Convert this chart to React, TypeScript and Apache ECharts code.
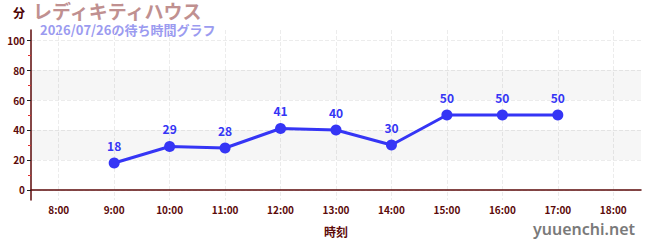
import React, { useEffect, useRef } from "react";
import * as echarts from "echarts";

const categories = ["8:00", "9:00", "10:00", "11:00", "12:00", "13:00", "14:00", "15:00", "16:00", "17:00", "18:00"];
const waitValues: (number | null)[] = [null, 18, 29, 28, 41, 40, 30, 50, 50, 50, null];
const majorTicks = [0, 20, 40, 60, 80, 100];
const minorTicks = [10, 30, 50, 70, 90];
const bands: [number, number][] = [[20, 40], [60, 80]];

const titleText = "レディキティハウス";
const subText = "2026/07/26の待ち時間グラフ";

export default function App() {
  const ref = useRef<HTMLDivElement>(null);
  useEffect(() => {
    const chart = echarts.init(ref.current!, null, { renderer: "svg" });
    const dark = "#5c0a0a";
    const font = "'Noto Sans CJK JP', 'Noto Sans', sans-serif";
    chart.setOption({
      animation: false,
      textStyle: { fontFamily: font },
      grid: { left: 31, right: 9, top: 30, bottom: 50 },
      graphic: [
        { type: "text", left: 13, top: 6, style: { text: "分", fill: "#4a0000", font: `bold 12px ${font}` } },
        { type: "text", left: 33, top: 1, style: { text: titleText, fill: "#c09090", font: `bold 19px ${font}` } },
        { type: "text", left: 40, top: 23, style: { text: subText, fill: "#9b9bf0", font: `bold 13px ${font}` } },
        { type: "text", right: 15, top: 221, style: { text: "yuuenchi.net", fill: "#7a7a7a", font: `600 16px 'Noto Sans', sans-serif` } },
      ],
      xAxis: {
        type: "category",
        data: categories,
        boundaryGap: true,
        name: "時刻",
        nameLocation: "middle",
        nameGap: 25,
        nameTextStyle: { color: dark, fontWeight: "bold", fontSize: 12 },
        axisLine: { lineStyle: { color: dark, width: 1.5 } },
        axisTick: { alignWithLabel: true, inside: false, lineStyle: { color: "#333" }, length: 3 },
        axisLabel: { color: dark, fontWeight: "bold", fontSize: 10, margin: 4 },
        splitLine: { show: true, alignWithLabel: true, lineStyle: { color: "#ececec", type: "dashed" } },
      },
      yAxis: [
        {
          type: "value",
          min: -6.67,
          max: 106.67,
          axisLine: { show: true, lineStyle: { color: dark, width: 1.5 } },
          axisTick: { show: true, customValues: majorTicks, length: 4, lineStyle: { color: "#222" } },
          axisLabel: { customValues: majorTicks, color: dark, fontWeight: "bold", fontSize: 10, margin: 6 },
          splitLine: { show: true, lineStyle: { color: "#ececec", type: "dashed" } },
        },
        {
          type: "value",
          min: -6.67,
          max: 106.67,
          position: "left",
          axisLine: { show: false },
          axisTick: { show: true, customValues: minorTicks, length: 3, lineStyle: { color: "#e03030" } },
          axisLabel: { show: false, customValues: minorTicks },
          splitLine: { show: false },
        },
      ],
      series: [
        {
          type: "line",
          data: waitValues,
          connectNulls: false,
          symbol: "circle",
          symbolSize: 11,
          itemStyle: { color: "#3535f5" },
          lineStyle: { color: "#3535f5", width: 3 },
          label: { show: true, position: "top", color: "#3535f5", fontWeight: "bold", fontSize: 12, distance: 6 },
          markArea: {
            silent: true,
            itemStyle: { color: "rgba(0,0,0,0.035)" },
            data: bands.map(([a, b]) => [{ yAxis: a }, { yAxis: b }]),
          },
        },
      ],
    });
    return () => chart.dispose();
  }, []);
  return <div ref={ref} style={{ width: 650, height: 250, position: "absolute", left: 0, top: 0 }} />;
}
